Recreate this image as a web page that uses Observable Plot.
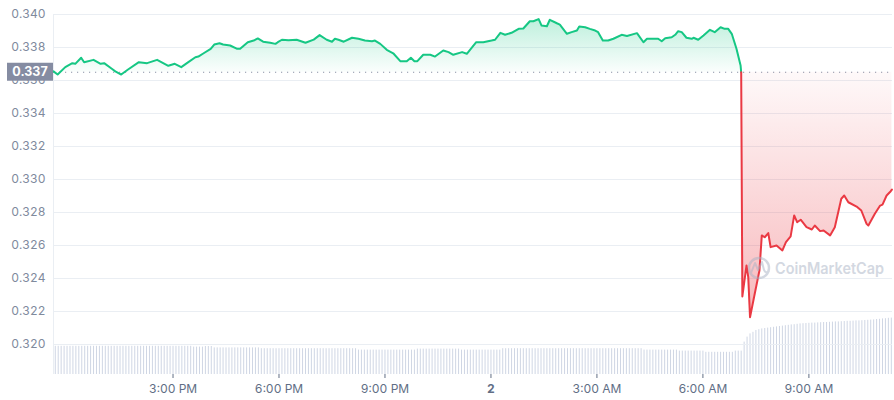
<!DOCTYPE html>
<html><head><meta charset="utf-8">
<script src="https://cdn.jsdelivr.net/npm/d3@7"></script>
<script src="https://cdn.jsdelivr.net/npm/@observablehq/plot@0.6"></script>
<style>
body{margin:0;background:#fff;}
#chart{position:relative;width:894px;height:400px;font-family:Inter,sans-serif;}
#chart svg{position:absolute;left:0;top:0;}
</style></head><body><div id="chart"></div>
<script>
// ---- data ----
const times = [
"01T11:37","01T11:44","01T11:57","01T12:09","01T12:14","01T12:24","01T12:29","01T12:45","01T12:57","01T13:03",
"01T13:16","01T13:22","01T13:32","01T13:43","01T14:02","01T14:16","01T14:33","01T14:52","01T15:03","01T15:14",
"01T15:26","01T15:38","01T15:43","01T15:52","01T16:04","01T16:10","01T16:19","01T16:25","01T16:37","01T16:49",
"01T16:54","01T17:07","01T17:17","01T17:24","01T17:33","01T17:45","01T17:54","01T17:58","01T18:05","01T18:16",
"01T18:30","01T18:45","01T18:59","01T19:09","01T19:21","01T19:30","01T19:35","01T19:41","01T19:50","01T20:04",
"01T20:15","01T20:26","01T20:38","01T20:43","01T20:52","01T21:03","01T21:14","01T21:26","01T21:37","01T21:44",
"01T21:50","01T21:55","01T22:05","01T22:17","01T22:25","01T22:39","01T22:48","01T22:56","01T23:11","01T23:19",
"01T23:35","01T23:47","02T00:01","02T00:07","02T00:16","02T00:24","02T00:35","02T00:47","02T00:55","02T01:06",
"02T01:12","02T01:21","02T01:26","02T01:35","02T01:40","02T01:52","02T01:57","02T02:09","02T02:17","02T02:26",
"02T02:30","02T02:40","02T02:48","02T02:57","02T03:02","02T03:10","02T03:19","02T03:28","02T03:42","02T03:51",
"02T04:08","02T04:19","02T04:25","02T04:44","02T04:50","02T04:56","02T05:07","02T05:13","02T05:18","02T05:24",
"02T05:32","02T05:41","02T05:44","02T05:52","02T06:01","02T06:12","02T06:20","02T06:30","02T06:37","02T06:43",
"02T06:49","02T06:57","02T07:04","02T07:05","02T07:07","02T07:14","02T07:17","02T07:20","02T07:28","02T07:36",
"02T07:40","02T07:45","02T07:51","02T07:55","02T08:05","02T08:15","02T08:21","02T08:29","02T08:35","02T08:40",
"02T08:46","02T08:56","02T09:05","02T09:10","02T09:19","02T09:25","02T09:36","02T09:44","02T09:55","02T10:00",
"02T10:07","02T10:21","02T10:29","02T10:38","02T10:41","02T10:52","02T11:01","02T11:05","02T11:12","02T11:19",
"02T11:21"];
const prices = [
0.33655,0.33636,0.33681,0.33705,0.33701,0.33738,0.33711,0.33725,0.33701,0.33705,
0.33671,0.33655,0.33636,0.33665,0.33711,0.33705,0.33725,0.33689,0.33701,0.33681,
0.33711,0.33741,0.33745,0.33765,0.33792,0.33818,0.33826,0.33818,0.33812,0.33792,
0.33792,0.33832,0.33842,0.33855,0.33835,0.33829,0.33822,0.33832,0.33847,0.33844,
0.33847,0.33829,0.33848,0.33875,0.33847,0.33835,0.33853,0.33847,0.33835,0.33859,
0.33853,0.33842,0.33838,0.33842,0.33822,0.33786,0.33765,0.33717,0.33717,0.33738,
0.33717,0.33717,0.33756,0.33756,0.33745,0.33782,0.33772,0.33756,0.33772,0.33762,
0.33832,0.33832,0.33842,0.33847,0.33889,0.33877,0.33889,0.33913,0.33915,0.33959,
0.33959,0.33972,0.33933,0.33929,0.33968,0.33947,0.33939,0.33883,0.33893,0.33903,
0.33927,0.33923,0.33913,0.33903,0.33893,0.33842,0.33842,0.33853,0.33877,0.33870,
0.33887,0.33832,0.33853,0.33853,0.33838,0.33856,0.33862,0.33877,0.33899,0.33893,
0.33859,0.33853,0.33859,0.33847,0.33873,0.33907,0.33893,0.33923,0.33913,0.33913,
0.33883,0.33792,0.33691,0.33650,0.32291,0.32479,0.32408,0.32165,0.32307,0.32448,
0.32661,0.32650,0.32675,0.32590,0.32600,0.32570,0.32620,0.32655,0.32782,0.32741,
0.32756,0.32711,0.32697,0.32721,0.32687,0.32691,0.32661,0.32711,0.32883,0.32903,
0.32862,0.32836,0.32812,0.32731,0.32721,0.32792,0.32842,0.32848,0.32903,0.32929,
0.32939];
const baseline = 0.3365;          // opening price (dotted reference line)
const baselineLabel = "0.337";
const dropTime = "02T07:05";      // where the line turns from green to red
const volumeStart = "01T11:40";   // 5-minute volume bars
const volumeStepMinutes = 5;
const volumes = [
141,141,141,141,141,141,141,141,141,141,
141,141,141,141,141,141,141,141,141,141,
141,141,141,141,141,141,141,141,141,141,
141,141,141,141,141,141,141,141,141,141,
141,141,141,141,141,141,141,
137,137,137,137,
140,140,140,
133,133,133,133,133,133,133,133,133,133,
133,133,133,133,133,133,
129,129,129,129,129,129,129,129,129,129,
129,129,129,129,129,129,129,129,129,129,
129,129,129,129,129,129,129,129,129,129,
129,129,129,
122,122,122,122,122,122,122,122,122,122,
122,122,122,122,122,122,122,122,122,122,
127,127,127,127,127,127,127,127,127,127,
127,127,127,127,127,
122,122,122,122,122,122,122,122,122,122,
122,122,122,122,
129,129,129,129,129,129,129,129,129,129,
129,129,129,129,129,129,129,129,129,129,
129,129,129,129,129,129,129,129,129,129,
129,129,129,129,129,129,129,129,129,129,
129,129,129,129,129,129,129,129,
122,122,122,122,122,122,122,122,122,122,
122,122,
117,117,117,117,117,117,117,117,117,
111,111,111,111,111,111,111,111,111,111,
117,117,117,
162,187,203,211,220,224,228,
230,232,234,236,238,240,242,244,246,248,
249,251,253,254,255,256,257,257,258,259,
260,260,261,262,263,263,264,265,266,266,
267,268,268,269,270,271,272,273,275,276,
278,279,281,282];
const yTicks = [0.320,0.322,0.324,0.326,0.328,0.330,0.332,0.334,0.336,0.338,0.340];
const xTicks = ["01T15:00","01T18:00","01T21:00","02T03:00","02T06:00","02T09:00"];
const xTickLabels = ["3:00 PM","6:00 PM","9:00 PM","3:00 AM","6:00 AM","9:00 AM"];
const dayTick = "02T00:00";
const dayTickLabel = "2";
const xDomain = ["01T11:37","02T11:22"];
const yDomain = [0.31818, 0.340];
const watermarkText = "CoinMarketCap";

// ---- build ----
const parseT = s => new Date(`2023-06-${s}Z`);
const rows = times.map((t, i) => ({t: parseT(t), p: prices[i]}));
const drop = parseT(dropTime);
const greenRows = rows.filter(d => d.t <= drop);
const redRows = rows.filter(d => d.t >= drop);
const v0 = +parseT(volumeStart);
const volRows = volumes.map((v, i) => ({t: new Date(v0 + i * volumeStepMinutes * 60000), v}));
const xd = xDomain.map(parseT);
const labelMap = new Map(xTicks.map((t, i) => [+parseT(t), xTickLabels[i]]));

const GREEN = "#16c784", RED = "#ea3943";
const common = {
  width: 894, height: 400,
  marginTop: 14, marginBottom: 26, marginLeft: 53, marginRight: 2,
  style: "font-family: Inter, sans-serif; font-size: 12px; background: transparent; overflow: visible;"
};

const volPlot = Plot.plot({
  ...common,
  x: {type: "utc", domain: xd, axis: null, label: null},
  y: {domain: [0, 1800], axis: null, label: null},
  marks: [
    Plot.ruleX(volRows, {x: "t", y1: 0, y2: "v", stroke: "#cfd6e4", strokeWidth: 1})
  ]
});

const defsMark = (index, scales) => {
  const defs = d3.create("svg:defs");
  const g = defs.append("linearGradient").attr("id", "cmcGreenFill")
    .attr("gradientUnits", "userSpaceOnUse").attr("x1", 0).attr("x2", 0)
    .attr("y1", scales.y(d3.max(prices))).attr("y2", scales.y(baseline));
  g.append("stop").attr("offset", 0).attr("stop-color", GREEN).attr("stop-opacity", 0.28);
  g.append("stop").attr("offset", 1).attr("stop-color", GREEN).attr("stop-opacity", 0.02);
  const r = defs.append("linearGradient").attr("id", "cmcRedFill")
    .attr("gradientUnits", "userSpaceOnUse").attr("x1", 0).attr("x2", 0)
    .attr("y1", scales.y(baseline)).attr("y2", scales.y(d3.min(prices)));
  r.append("stop").attr("offset", 0).attr("stop-color", RED).attr("stop-opacity", 0.03);
  r.append("stop").attr("offset", 1).attr("stop-color", RED).attr("stop-opacity", 0.36);
  return defs.node();
};

const labelMark = (index, scales, values, dim) => {
  const g = d3.create("svg:g");
  const y = scales.y(baseline);
  g.append("rect").attr("x", 7).attr("y", y - 9).attr("width", dim.marginLeft - 7).attr("height", 18).attr("fill", "#858ca2");
  g.append("text").attr("x", (7 + dim.marginLeft) / 2).attr("y", y).attr("dy", "0.36em")
    .attr("text-anchor", "middle").attr("fill", "#fff").attr("font-weight", 700).attr("font-size", 12.5)
    .text(baselineLabel);
  return g.node();
};

const pricePlot = Plot.plot({
  ...common,
  x: {type: "utc", domain: xd, label: null},
  y: {domain: yDomain, label: null},
  marks: [
    defsMark,
    Plot.gridY(yTicks, {stroke: "#eaeef3", strokeOpacity: 1}),
    Plot.ruleX([xd[0]], {stroke: "#eaeef3"}),
    Plot.axisY(yTicks, {label: null, tickSize: 0, tickPadding: 8, tickFormat: d3.format(".3f"), color: "#808a9d", fontSize: 12}),
    Plot.axisX(xTicks.map(parseT), {label: null, tickSize: 4, tickPadding: 6, tickFormat: d => labelMap.get(+d), color: "#616e85", fontSize: 12}),
    Plot.axisX([parseT(dayTick)], {label: null, tickSize: 4, tickPadding: 6, tickFormat: () => dayTickLabel, color: "#616e85", fontSize: 12, fontWeight: "bold"}),
    Plot.ruleY([baseline], {stroke: "#8a93a6", strokeWidth: 1.2, strokeDasharray: "1.2,4.8"}),
    Plot.areaY(greenRows, {x: "t", y1: baseline, y2: "p", fill: "url(#cmcGreenFill)"}),
    Plot.areaY(redRows, {x: "t", y1: baseline, y2: "p", fill: "url(#cmcRedFill)"}),
    Plot.line(greenRows, {x: "t", y: "p", stroke: GREEN, strokeWidth: 2}),
    Plot.line(redRows, {x: "t", y: "p", stroke: RED, strokeWidth: 2}),
    labelMark
  ]
});

const chart = document.getElementById("chart");
chart.append(volPlot, pricePlot);

// watermark
const wm = d3.select(chart).append("svg").attr("width", 894).attr("height", 400).style("pointer-events", "none");
const wg = wm.append("g").attr("opacity", 0.5);
wg.append("circle").attr("cx", 759).attr("cy", 268).attr("r", 10).attr("fill", "none").attr("stroke", "#a9b3c5").attr("stroke-width", 2.4);
wg.append("path").attr("d", "M751,273 L755,263 L758,270 L762,262 L764,270 Q766,274 769,271")
  .attr("fill", "none").attr("stroke", "#a9b3c5").attr("stroke-width", 2).attr("stroke-linejoin", "round");
wg.append("text").attr("x", 775).attr("y", 274).attr("fill", "#a9b3c5")
  .attr("font-family", "Inter, sans-serif").attr("font-size", 15.5).attr("font-weight", 600)
  .attr("textLength", 109).attr("lengthAdjust", "spacingAndGlyphs").text(watermarkText);
</script></body></html>
